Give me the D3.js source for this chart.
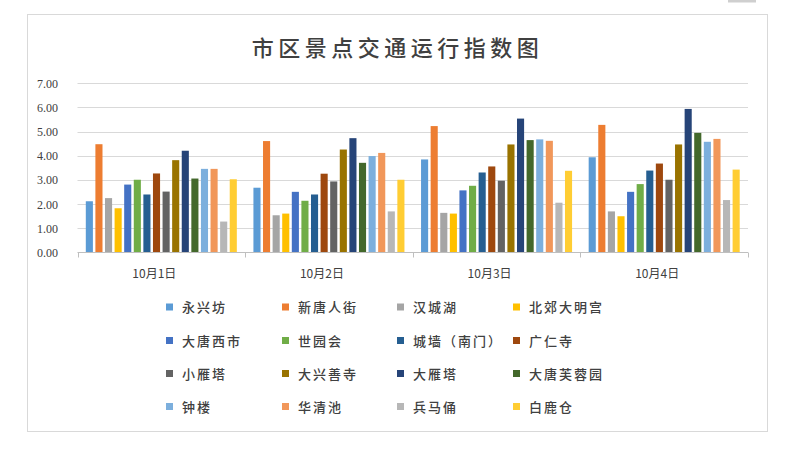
<!DOCTYPE html>
<html>
<head>
<meta charset="utf-8">
<script src="https://cdn.jsdelivr.net/npm/d3@7"></script>
<style>
  html, body { margin: 0; padding: 0; background: #fff; }
  svg { display: block; }
</style>
</head>
<body>
<svg id="chart" width="800" height="461"></svg>
<script>
const title = "市区景点交通运行指数图";
const dates = ["10月1日", "10月2日", "10月3日", "10月4日"];
const spots = ["永兴坊", "新唐人街", "汉城湖", "北郊大明宫", "大唐西市", "世园会", "城墙（南门）", "广仁寺",
               "小雁塔", "大兴善寺", "大雁塔", "大唐芙蓉园", "钟楼", "华清池", "兵马俑", "白鹿仓"];
const colors = ["#5B9BD5", "#ED7D31", "#A5A5A5", "#FFC000", "#4472C4", "#70AD47", "#255E91", "#9E480E",
                "#636363", "#997300", "#264478", "#43682B", "#7CAFDD", "#F1975A", "#B7B7B7", "#FFCD33"];
// values per date, one entry per spot (same order as spots)
const day1 = [2.12, 4.48, 2.25, 1.83, 2.81, 3.01, 2.40, 3.27, 2.52, 3.82, 4.21, 3.06, 3.46, 3.46, 1.28, 3.03];
const day2 = [2.68, 4.61, 1.54, 1.61, 2.51, 2.14, 2.40, 3.26, 2.94, 4.26, 4.73, 3.71, 3.99, 4.12, 1.70, 3.01];
const day3 = [3.85, 5.23, 1.64, 1.61, 2.57, 2.76, 3.31, 3.56, 2.97, 4.47, 5.54, 4.65, 4.68, 4.62, 2.06, 3.38];
const day4 = [3.94, 5.28, 1.70, 1.50, 2.51, 2.83, 3.39, 3.68, 3.01, 4.47, 5.94, 4.95, 4.58, 4.70, 2.17, 3.43];
const yTicks = [0, 1, 2, 3, 4, 5, 6, 7];

const values = [day1, day2, day3, day4];
const svg = d3.select("#chart");

// decorations: top-right tab and chart border
svg.append("rect").attr("x", 728).attr("y", 0).attr("width", 28).attr("height", 2.5).attr("fill", "#cfcfcf");
svg.append("rect").attr("x", 27.5).attr("y", 14.5).attr("width", 740).attr("height", 417)
   .attr("fill", "#fff").attr("stroke", "#d9d9d9").attr("stroke-width", 1);

// title
svg.append("text").attr("x", 397.5).attr("y", 56).attr("text-anchor", "middle")
   .attr("font-family", "'Noto Sans CJK SC', sans-serif").attr("font-size", 22).attr("font-weight", 500)
   .attr("letter-spacing", 4.5).attr("fill", "#404040").text(title);

const y = d3.scaleLinear().domain([0, 7]).range([252.5, 83.3]);
const x0 = d3.scaleBand().domain(dates).range([77.5, 748]).padding(0);
const x1 = d3.scaleBand().domain(spots).range([8.3, x0.bandwidth() - 8.3]).paddingInner(0.26).paddingOuter(0);
const color = d3.scaleOrdinal().domain(spots).range(colors);

// gridlines
svg.append("g").selectAll("line").data(yTicks.filter(d => d > 0)).join("line")
   .attr("x1", 77.5).attr("x2", 748).attr("y1", d => Math.round(y(d)) + 0.5).attr("y2", d => Math.round(y(d)) + 0.5)
   .attr("stroke", "#d9d9d9").attr("stroke-width", 1);

// y axis labels
const yAxis = d3.axisLeft(y).tickValues(yTicks).tickFormat(d3.format(".2f")).tickSize(0).tickPadding(0);
const yg = svg.append("g").attr("transform", "translate(58,0)").call(yAxis);
yg.attr("font-family", null);
yg.select(".domain").remove();
yg.selectAll("text").style("font-family", "'Liberation Serif', 'DejaVu Serif', serif").attr("font-size", 12)
  .attr("fill", "#404040");

// bars
const groups = svg.append("g").selectAll("g").data(dates).join("g")
   .attr("transform", d => `translate(${x0(d)},0)`);
groups.selectAll("rect").data((d, i) => values[i].map((v, j) => ({spot: spots[j], v})))
   .join("rect")
   .attr("x", d => x1(d.spot)).attr("width", x1.bandwidth())
   .attr("y", d => y(d.v)).attr("height", d => y(0) - y(d.v))
   .attr("fill", d => color(d.spot));

// x axis
const xAxis = d3.axisBottom(x0).tickSize(0).tickPadding(0);
const xg = svg.append("g").attr("transform", `translate(0,${y(0)})`).call(xAxis);
xg.attr("font-family", null);
xg.select(".domain").attr("stroke", "#bfbfbf").attr("d", `M77.5,0H748`);
xg.selectAll("text").style("font-family", "'Noto Sans CJK SC', sans-serif").attr("font-size", 12)
  .attr("fill", "#404040").attr("dy", 0).attr("y", 25).attr("dx", -7);
// boundary ticks
const bounds = dates.map(d => x0(d)).concat([x0(dates[dates.length - 1]) + x0.bandwidth()]);
xg.selectAll("line.bound").data(bounds).join("line").attr("class", "bound")
  .attr("x1", d => Math.round(d) + 0.5).attr("x2", d => Math.round(d) + 0.5)
  .attr("y1", 0).attr("y2", 5).attr("stroke", "#bfbfbf");

// legend
const colX = [166, 282, 397, 513];
const rowY = [307, 340.5, 373.5, 406.5];
const leg = svg.append("g").selectAll("g").data(spots).join("g")
   .attr("transform", (d, i) => `translate(${colX[i % 4]},${rowY[Math.floor(i / 4)]})`);
leg.append("rect").attr("x", 0).attr("y", -3.5).attr("width", 7).attr("height", 7).attr("fill", d => color(d));
leg.append("text").attr("x", 16).attr("y", 5).attr("font-family", "'Noto Sans CJK SC', sans-serif")
   .attr("font-size", 13).attr("font-weight", 500).attr("letter-spacing", 2).attr("fill", "#404040").text(d => d);
</script>
</body>
</html>
